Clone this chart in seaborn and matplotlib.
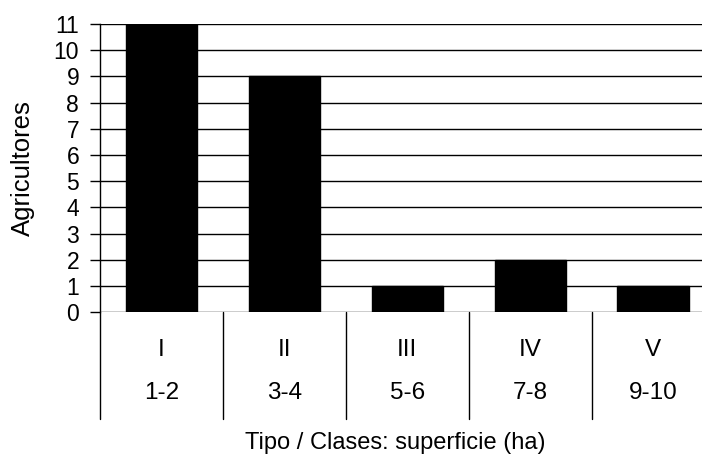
"""Bar chart of farmers per farm type / surface class."""

import matplotlib
matplotlib.use("Agg")
import matplotlib.pyplot as plt  # noqa: E402
import matplotlib.transforms as mtransforms  # noqa: E402
import seaborn as sns  # noqa: E402
import pandas as pd  # noqa: E402

tipos = ["I", "II", "III", "IV", "V"]
clases = ["1-2", "3-4", "5-6", "7-8", "9-10"]
agricultores = [11, 9, 1, 2, 1]

sns.set_style("white", {"text.color": "black", "axes.labelcolor": "black",
                        "xtick.color": "black", "ytick.color": "black"})
plt.rcParams["font.family"] = ["Liberation Sans", "DejaVu Sans"]

df = pd.DataFrame({"tipo": tipos, "clase": clases, "n": agricultores})

W, H = 702, 470
fig = plt.figure(figsize=(W / 100, H / 100), dpi=100)
# axes runs past the right edge of the image, as in the original export
ax = fig.add_axes([100 / W, 1 - 312.3 / H, 614.6 / W, 288.3 / H])

sns.barplot(data=df, x="tipo", y="n", order=tipos, color="black",
            edgecolor="black", width=0.58, saturation=1, ax=ax, zorder=3)

ax.set_ylim(0, 11)
ax.set_xlim(-0.5, len(tipos) - 0.5)
ax.set_yticks(range(0, 12))
ax.yaxis.grid(True, color="black", linewidth=1.0)
ax.set_axisbelow(True)
ax.tick_params(axis="y", direction="out", length=7, width=1.0, color="black",
               labelcolor="black", labelsize=16.5, pad=8, left=True)
ax.set_xticks([])
ax.set_xlabel("")
ax.set_ylabel("Agricultores", fontsize=18.5, color="black")
ax.yaxis.set_label_coords(-0.106, 0.5)

for side in ["top", "right", "bottom"]:
    ax.spines[side].set_visible(False)
ax.spines["left"].set_color("black")
ax.spines["left"].set_linewidth(1.0)

# two-level category axis: type row, surface class row, separators
trans = mtransforms.blended_transform_factory(ax.transData, ax.transAxes)
for i, (t, c) in enumerate(zip(tipos, clases)):
    ax.text(i, -0.131, t, transform=trans, ha="center", va="center",
            fontsize=17.5, color="black")
    ax.text(i, -0.28, c, transform=trans, ha="center", va="center",
            fontsize=17.5, color="black")
for i in range(len(tipos) + 1):
    ax.plot([i - 0.5, i - 0.5], [0, -0.37], transform=trans, color="black",
            linewidth=1.0, clip_on=False)

fig.text(395 / W, 1 - 443 / H, "Tipo / Clases: superficie (ha)",
         ha="center", va="center", fontsize=17, color="black")

fig.savefig("out.png", dpi=100)
plt.close(fig)
